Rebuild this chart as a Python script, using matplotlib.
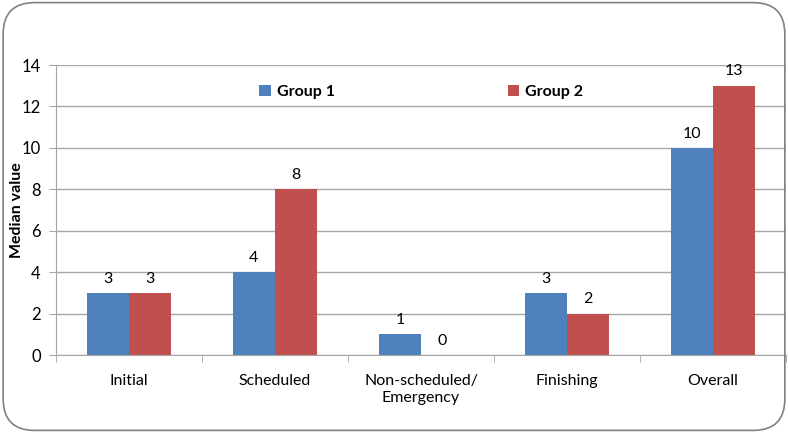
import matplotlib.pyplot as plt
import numpy as np
from matplotlib.patches import FancyBboxPatch

categories = ["Initial", "Scheduled", "Non-scheduled/\nEmergency", "Finishing", "Overall"]
group1 = [3, 4, 1, 3, 10]
group2 = [3, 8, 0, 2, 13]

plt.rcParams['font.family'] = ['Lato', 'DejaVu Sans']

fig = plt.figure(figsize=(7.88, 4.33), dpi=100)
# rounded outer frame
frame = FancyBboxPatch((0.004, 0.006), 0.992, 0.988, boxstyle="round,pad=0,rounding_size=0.04",
                       transform=fig.transFigure, fill=False, edgecolor='#808080', linewidth=1.2,
                       mutation_aspect=788/433)
fig.patches.append(frame)

ax = fig.add_axes([56/788, 1 - 355/433, 730/788, 290/433])
x = np.arange(len(categories))
w = 0.29
b1 = ax.bar(x - w/2, group1, w, color='#4f81bd', label='Group 1')
b2 = ax.bar(x + w/2, group2, w, color='#c0504d', label='Group 2')

for bars, vals in ((b1, group1), (b2, group2)):
    for r, v in zip(bars, vals):
        ax.text(r.get_x() + r.get_width()/2, v + 0.35, str(v), ha='center', va='bottom', fontsize=11.5)

ax.set_xlim(-0.5, len(categories) - 0.5)
ax.set_ylim(0, 14)
ax.set_yticks(range(0, 15, 2))
ax.yaxis.grid(True, color='#a6a6a6', linewidth=1)
ax.set_axisbelow(True)
ax.set_xticks(x)
ax.set_xticklabels(categories, fontsize=11.5)
ax.set_xticks(np.arange(-0.5, len(categories)), minor=True)
ax.tick_params(axis='x', which='major', length=0, pad=14)
ax.tick_params(axis='x', which='minor', length=5, color='#a6a6a6')
ax.tick_params(axis='y', length=5, color='#a6a6a6', labelsize=12, pad=6)
for s in ['top', 'right']:
    ax.spines[s].set_visible(False)
for s in ['left', 'bottom']:
    ax.spines[s].set_color('#a6a6a6')
ax.set_ylabel('Median value', fontsize=11.5, fontweight='bold')
ax.yaxis.set_label_coords((24 - 56) / 730, 0.5)

leg = ax.legend(loc='upper left', bbox_to_anchor=(0.259, 0.98), ncol=2, frameon=False,
                handlelength=0.7, handleheight=0.7, handletextpad=0.4, columnspacing=10.8,
                prop={'weight': 'bold', 'size': 11.5})

fig.savefig('out.png', dpi=100)
